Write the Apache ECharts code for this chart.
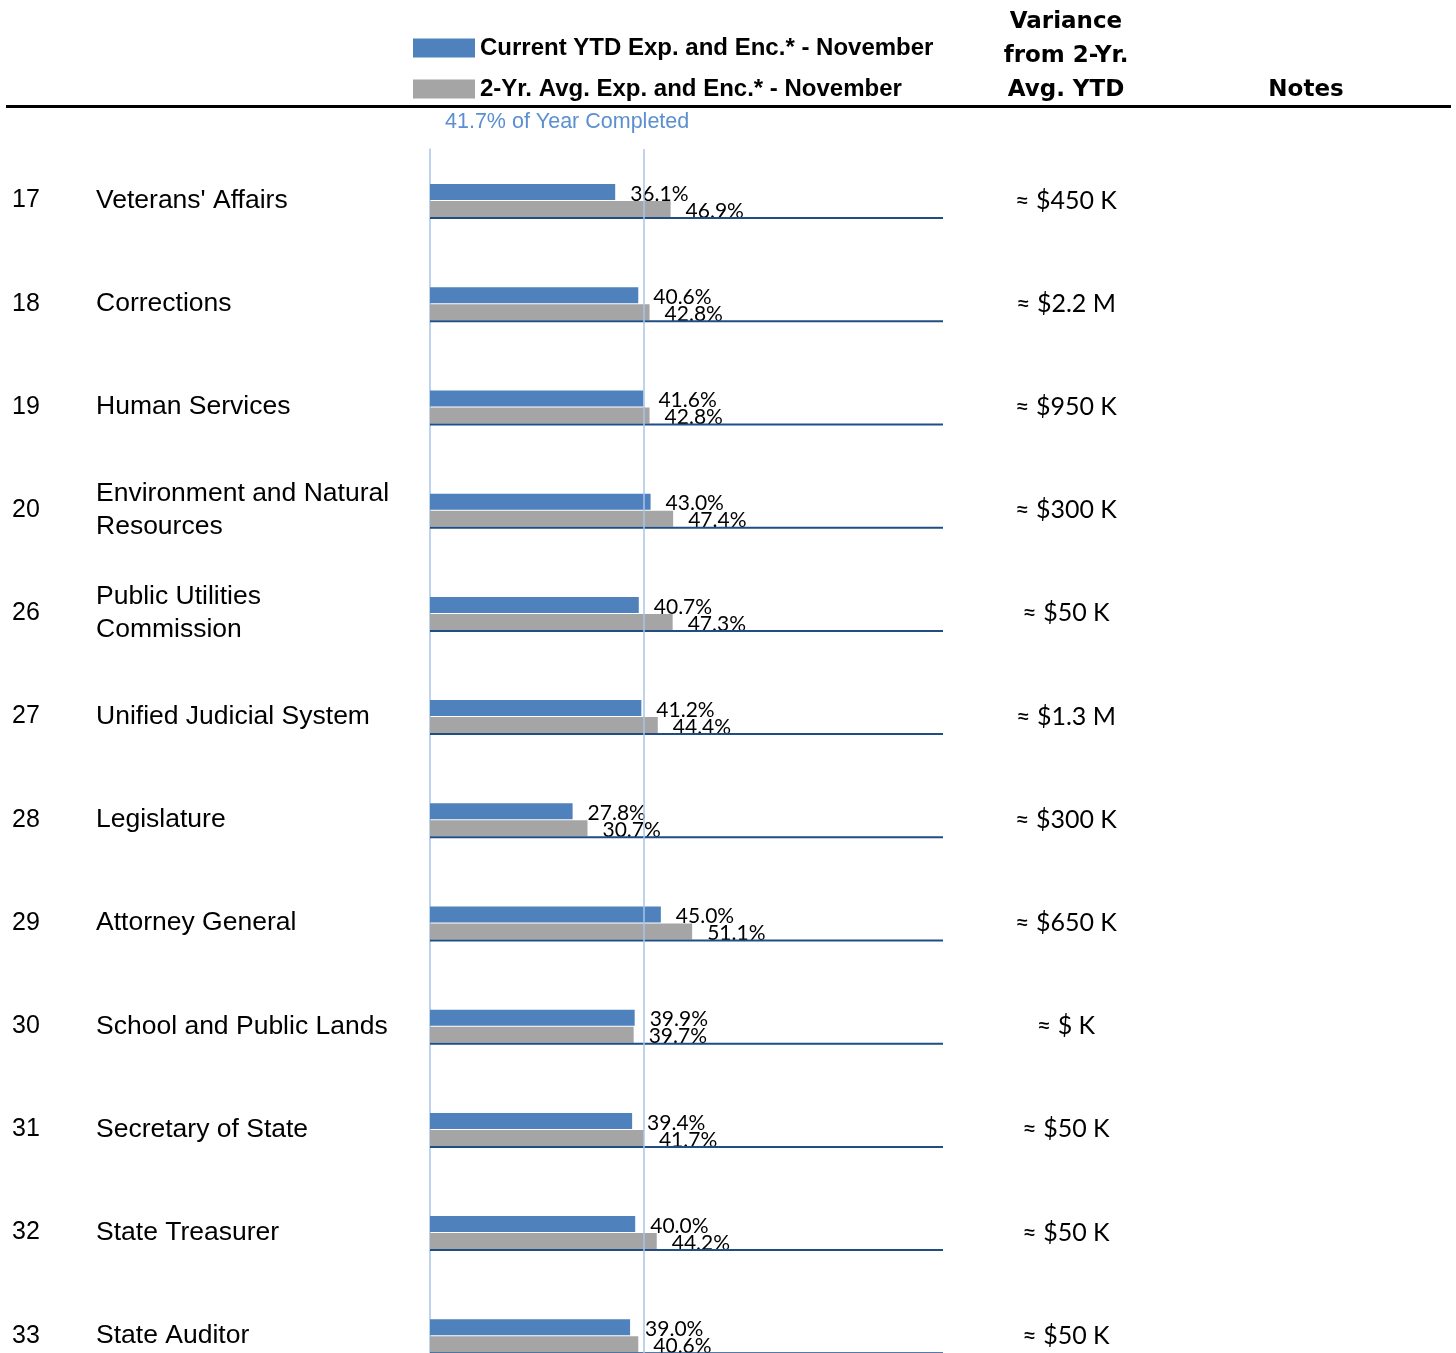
<!DOCTYPE html>
<html>
<head>
<meta charset="utf-8">
<script src="https://cdn.jsdelivr.net/npm/echarts@6/dist/echarts.min.js"></script>
<style>
html,body{margin:0;padding:0;background:#fff;overflow:hidden;}
#chart{width:1456px;height:1400px;}
</style>
</head>
<body>
<div id="chart"></div>
<script>
const rowIds = ['17','18','19','20','26','27','28','29','30','31','32','33'];
const rowNames = ["Veterans' Affairs","Corrections","Human Services","Environment and Natural\nResources","Public Utilities\nCommission","Unified Judicial System","Legislature","Attorney General","School and Public Lands","Secretary of State","State Treasurer","State Auditor"];
const currentYTD = [36.1,40.6,41.6,43.0,40.7,41.2,27.8,45.0,39.9,39.4,40.0,39.0];
const avgYTD = [46.9,42.8,42.8,47.4,47.3,44.4,30.7,51.1,39.7,41.7,44.2,40.6];
const variance = ['≈ $450 K','≈ $2.2 M','≈ $950 K','≈ $300 K','≈ $50 K','≈ $1.3 M','≈ $300 K','≈ $650 K','≈ $ K','≈ $50 K','≈ $50 K','≈ $50 K'];
const yearCompleted = 41.7;
const seriesNames = ['Current YTD Exp. and Enc.* - November','2-Yr. Avg. Exp. and Enc.* - November'];

const chart = echarts.init(document.getElementById('chart'));
const lblFont = 'Lato, "Open Sans", sans-serif';
const armFont = '"Liberation Sans", Arial, sans-serif';
const lineBlue = '#a9c5e8';

const option = {
  animation: false,
  backgroundColor: '#fff',
  legend: {
    data: seriesNames,
    orient: 'vertical',
    left: 413, top: 36, padding: 0,
    itemWidth: 62, itemHeight: 19, itemGap: 17,
    icon: 'rect',
    selectedMode: false,
    textStyle: {fontFamily: armFont, fontWeight: 'bold', fontSize: 24, color: '#000', lineHeight: 21, padding: [2,0,0,0]}
  },
  grid: {left: 430, top: 149, width: 513, height: 1238.4, containLabel: false},
  xAxis: {type: 'value', min: 0, max: 100, show: false},
  yAxis: [
    {type: 'category', data: rowIds, inverse: true, position: 'left',
     axisLine: {show: true, lineStyle: {color: lineBlue, width: 1.5}},
     axisTick: {show: false},
     axisLabel: {align: 'left', margin: 418, fontFamily: armFont, fontSize: 25, color: '#000'}},
    {type: 'category', data: rowNames, inverse: true, position: 'left',
     axisLine: {show: false}, axisTick: {show: false},
     axisLabel: {align: 'left', margin: 334, fontFamily: armFont, fontSize: 26.5, color: '#000', lineHeight: 33}},
    {type: 'category', data: variance, inverse: true, position: 'right',
     axisLine: {show: false}, axisTick: {show: false},
     axisLabel: {align: 'center', margin: 123, fontFamily: lblFont, fontSize: 25, color: '#000'}}
  ],
  graphic: [
    {type: 'line', shape: {x1: 6, y1: 106.5, x2: 1451, y2: 106.5}, style: {stroke: '#000', lineWidth: 3}},
    {type: 'text', left: 445, top: 111, style: {text: '41.7% of Year Completed', fill: '#5b8fd0', font: '21.5px ' + armFont}},
    {type: 'text', x: 1066, y: 5, style: {text: 'Variance\nfrom 2-Yr.\nAvg. YTD', fill: '#000', align: 'center', lineHeight: 34, font: 'bold 23px "DejaVu Sans", sans-serif'}},
    {type: 'text', x: 1306, y: 79, style: {text: 'Notes', fill: '#000', align: 'center', font: 'bold 23px "DejaVu Sans", sans-serif'}}
  ],
  series: [
    {name: seriesNames[0], type: 'bar', data: currentYTD, barWidth: 16, barGap: '6%',
     itemStyle: {color: '#4f81bd'},
     label: {show: true, position: 'right', distance: 15, offset: [0, 2], fontFamily: lblFont, fontSize: 21, color: '#000',
       formatter: p => p.value.toFixed(1) + '%'},
     markLine: {silent: true, symbol: 'none', label: {show: false},
       lineStyle: {color: lineBlue, width: 1.5, type: 'solid'},
       data: [{xAxis: yearCompleted}]}},
    {name: seriesNames[1], type: 'bar', data: avgYTD, barWidth: 16,
     itemStyle: {color: '#a5a5a5'},
     label: {show: true, position: 'right', distance: 15, offset: [0, 2], fontFamily: lblFont, fontSize: 21, color: '#000',
       formatter: p => p.value.toFixed(1) + '%'},
     z: 3},
    {name: 'rowLine', type: 'custom', data: rowIds.map((d, i) => i), z: 4,
     encode: {y: 0},
     renderItem: function (params, api) {
       const i = api.value(0);
       const a = api.coord([0, i]);
       const b = api.coord([100, i]);
       return {type: 'line', shape: {x1: a[0], y1: a[1] + 17.5, x2: b[0], y2: b[1] + 17.5},
         style: {stroke: '#1f4e85', lineWidth: 2}};
     }}
  ]
};
chart.setOption(option);
</script>
</body>
</html>
